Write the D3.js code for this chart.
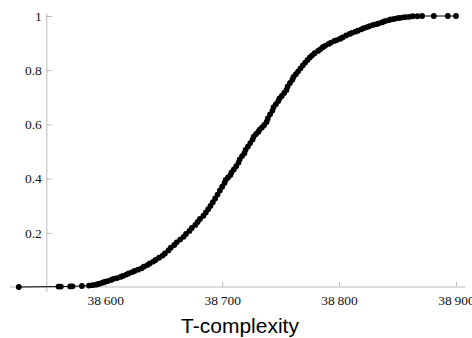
<!DOCTYPE html>
<html>
<head>
<meta charset="utf-8">
<script src="https://cdn.jsdelivr.net/npm/d3@7"></script>
<style>
  html, body { margin: 0; padding: 0; background: #fff; }
  svg { display: block; }
  .tick text { font-family: "Liberation Serif", "DejaVu Serif", serif; font-size: 13.5px; fill: #111; }
  .tick line { stroke: #bbb; }
</style>
</head>
<body>
<div id="chart"></div>
<script>
const tComplexity = [
  38526, 38560, 38562, 38570, 38572, 38580, 38586, 38589, 38592, 38594,
  38596, 38598, 38600, 38602, 38605, 38607, 38610, 38613, 38615, 38618,
  38620, 38623, 38625, 38628, 38631, 38633, 38636, 38638, 38641, 38643,
  38646, 38649, 38651, 38654, 38656, 38659, 38661, 38664, 38667, 38669,
  38672, 38674, 38677, 38679, 38681, 38684, 38686, 38688, 38690, 38692,
  38694, 38696, 38698, 38700, 38702, 38703, 38705, 38707, 38708, 38710,
  38712, 38714, 38715, 38717, 38719, 38720, 38722, 38724, 38726, 38727,
  38729, 38731, 38732, 38734, 38736, 38738, 38739, 38741, 38743, 38744,
  38746, 38748, 38749, 38751, 38753, 38755, 38756, 38758, 38760, 38761,
  38763, 38765, 38767, 38769, 38771, 38773, 38775, 38777, 38779, 38782,
  38784, 38786, 38788, 38791, 38793, 38796, 38798, 38801, 38803, 38806,
  38809, 38811, 38814, 38816, 38819, 38821, 38824, 38826, 38829, 38832,
  38834, 38837, 38839, 38842, 38844, 38847, 38850, 38852, 38855, 38857,
  38860, 38863, 38867, 38871, 38881, 38893, 38900
]
const cdf = [
  0, 0.0015, 0.0015, 0.0022, 0.0026, 0.0037, 0.0052, 0.0066, 0.0085, 0.011,
  0.0137, 0.0166, 0.0196, 0.022, 0.026, 0.030, 0.033, 0.037, 0.041, 0.046,
  0.050, 0.055, 0.059, 0.064, 0.069, 0.075, 0.081, 0.087, 0.094, 0.100,
  0.108, 0.116, 0.124, 0.135, 0.145, 0.155, 0.165, 0.175, 0.185, 0.196,
  0.207, 0.218, 0.229, 0.240, 0.251, 0.263, 0.275, 0.287, 0.299, 0.313,
  0.327, 0.341, 0.356, 0.370, 0.384, 0.395, 0.404, 0.413, 0.423, 0.434,
  0.446, 0.459, 0.471, 0.483, 0.494, 0.506, 0.518, 0.531, 0.544, 0.555,
  0.565, 0.573, 0.581, 0.589, 0.598, 0.609, 0.622, 0.637, 0.651, 0.664,
  0.675, 0.686, 0.696, 0.705, 0.716, 0.727, 0.740, 0.753, 0.765, 0.775,
  0.785, 0.796, 0.807, 0.818, 0.828, 0.838, 0.847, 0.855, 0.863, 0.871,
  0.878, 0.885, 0.890, 0.897, 0.902, 0.908, 0.911, 0.916, 0.921, 0.928,
  0.934, 0.938, 0.942, 0.946, 0.951, 0.955, 0.959, 0.963, 0.967, 0.970,
  0.973, 0.977, 0.981, 0.984, 0.987, 0.989, 0.992, 0.993, 0.995, 0.996,
  0.997, 0.999, 0.999, 1.0, 1.0, 1.0, 1.0
]
const xTicks = [38600, 38700, 38800, 38900]
const yTicks = [0.2, 0.4, 0.6, 0.8, 1]
const xLabel = "T-complexity"
const axisOriginX = 38550

const width = 472
const height = 338

const points = tComplexity.map((t, i) => ({ t, p: cdf[i] }))

const x = d3.scaleLinear()
  .domain([38518.5, 38907.7])
  .range([10, 465])

const y = d3.scaleLinear()
  .domain([0, 1])
  .range([287, 16])

const svg = d3.select("#chart")
  .append("svg")
    .attr("width", width)
    .attr("height", height)

// axis lines (span the padded plot range)
svg.append("line")
  .attr("x1", x.range()[0])
  .attr("x2", x.range()[1])
  .attr("y1", y(0))
  .attr("y2", y(0))
  .attr("stroke", "#bbb")

svg.append("line")
  .attr("x1", x(axisOriginX))
  .attr("x2", x(axisOriginX))
  .attr("y1", y(1) - 3)
  .attr("y2", y(0) + 5)
  .attr("stroke", "#bbb")

const xAxis = svg.append("g")
  .attr("transform", `translate(0, ${y(0)})`)
  .call(d3.axisBottom(x)
    .tickValues(xTicks)
    .tickSizeInner(-5)
    .tickSizeOuter(0)
    .tickPadding(8)
    .tickFormat(d => d3.format("d")(d).replace(/^(\d\d)/, "$1\u2009")))
xAxis.select(".domain").remove()

const yAxis = svg.append("g")
  .attr("transform", `translate(${x(axisOriginX)}, 0)`)
  .call(d3.axisLeft(y)
    .tickValues(yTicks)
    .tickSizeInner(-5)
    .tickSizeOuter(0)
    .tickPadding(5)
    .tickFormat(d => d === 1 ? "1" : d3.format(".1f")(d)))
yAxis.select(".domain").remove()

// data
const line = d3.line()
  .x(d => x(d.t))
  .y(d => y(d.p))

svg.append("path")
  .datum(points)
  .attr("d", line)
  .attr("fill", "none")
  .attr("stroke", "#000")
  .attr("stroke-width", 1)

svg.append("g")
  .selectAll("circle")
  .data(points)
  .join("circle")
    .attr("cx", d => x(d.t))
    .attr("cy", d => y(d.p))
    .attr("r", 2.9)
    .attr("fill", "#000")

svg.append("text")
  .attr("x", 240)
  .attr("y", 333)
  .attr("text-anchor", "middle")
  .style("font-family", "'Liberation Sans', Arial, sans-serif")
  .style("font-size", "21px")
  .attr("fill", "#000")
  .text(xLabel)
</script>
</body>
</html>
